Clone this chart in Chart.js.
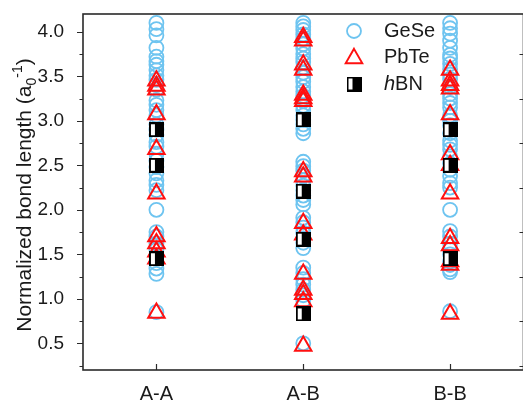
<!DOCTYPE html>
<html>
<head>
<meta charset="utf-8">
<script src="https://cdn.jsdelivr.net/npm/chart.js@4.4.0/dist/chart.umd.min.js"></script>
<style>
  html, body { margin: 0; padding: 0; background: #fff; overflow: hidden; }
  canvas { display: block; }
</style>
</head>
<body>
<canvas id="bondChart" width="535" height="402"></canvas>
<script>
// categories on the x axis
const categories = ["A-A", "A-B", "B-B"];

// GeSe (circles), per category
const geseAA = [4.10, 4.03, 3.96, 3.82, 3.72, 3.67, 3.63, 3.57, 3.51, 3.46, 3.40, 3.35, 3.23, 3.18, 3.12, 3.06, 2.96, 2.90, 2.84, 2.76, 2.71, 2.63, 2.55, 2.48, 2.41, 2.33, 2.28, 2.22, 2.00, 1.75, 1.70, 1.62, 1.55, 1.48, 1.40, 1.34, 1.28, 0.85];
const geseAB = [4.10, 4.06, 4.02, 3.97, 3.92, 3.86, 3.81, 3.75, 3.70, 3.66, 3.60, 3.54, 3.49, 3.44, 3.38, 3.33, 3.28, 3.22, 3.17, 3.12, 3.06, 3.01, 2.96, 2.91, 2.86, 2.54, 2.49, 2.44, 2.38, 2.33, 2.27, 2.22, 2.16, 2.11, 2.06, 1.91, 1.86, 1.80, 1.74, 1.68, 1.63, 1.57, 1.35, 1.29, 1.22, 1.16, 1.10, 1.04, 0.98, 0.50];
const geseBB = [4.10, 4.04, 3.98, 3.90, 3.82, 3.74, 3.70, 3.64, 3.58, 3.52, 3.47, 3.38, 3.30, 3.25, 3.20, 3.15, 3.06, 3.00, 2.95, 2.86, 2.78, 2.73, 2.68, 2.60, 2.52, 2.45, 2.38, 2.30, 2.25, 2.00, 1.76, 1.70, 1.62, 1.55, 1.50, 1.42, 1.38, 1.33, 1.30, 0.86];

// PbTe (triangles)
const pbteAA = [3.45, 3.39, 3.35, 3.07, 2.68, 2.18, 1.70, 1.62, 1.53, 1.45, 0.84];
const pbteAB = [3.94, 3.90, 3.63, 3.57, 3.29, 3.25, 3.22, 2.43, 2.37, 1.85, 1.72, 1.28, 1.10, 1.05, 0.97, 0.47];
const pbteBB = [3.57, 3.45, 3.40, 3.36, 3.07, 2.62, 2.50, 2.18, 1.68, 1.60, 1.42, 1.38, 0.83];

// hBN (half-filled squares)
const hbnAA = [2.90, 2.50, 1.45];
const hbnAB = [3.01, 2.21, 1.67, 0.83];
const hbnBB = [2.90, 2.50, 1.45];

const seriesNames = ["GeSe", "PbTe", "hBN"];
const yTicks = [0.5, 1.0, 1.5, 2.0, 2.5, 3.0, 3.5, 4.0];
const yTickLabels = ["0.5", "1.0", "1.5", "2.0", "2.5", "3.0", "3.5", "4.0"];

const FONT = "'Liberation Sans', Arial, sans-serif";
const BLUE = "rgb(110, 196, 240)";
const RED = "#ff1010";
const AXIS = "#2a2a2a";

// build {x, y} points: category index -> x position 1..n
function toPoints(groups) {
    const pts = [];
    groups.forEach((vals, i) => {
        vals.forEach(v => pts.push({ x: i + 1, y: v }));
    });
    return pts;
}

// half-filled square marker for hBN
function makeHalfSquare() {
    const c = document.createElement("canvas");
    c.width = 15;
    c.height = 15;
    const g = c.getContext("2d");
    g.fillStyle = "#000";
    g.fillRect(0, 0, 15, 15);
    g.fillStyle = "#fff";
    g.fillRect(2, 2, 4, 11);
    return c;
}
const hbnMarker = makeHalfSquare();

// no label overhang padding, keeps the plot box fixed
function noPad(s) {
    s.paddingTop = 0;
    s.paddingBottom = 0;
    s.paddingLeft = 0;
    s.paddingRight = 0;
}

// frame, ticks, y title and legend
const framePlugin = {
    id: "frame",
    afterDraw(chart) {
        const { ctx, chartArea: a, scales } = chart;
        const ys = scales.y, xs = scales.x;
        ctx.save();
        ctx.strokeStyle = AXIS;
        ctx.lineWidth = 1.6;
        ctx.strokeRect(a.left, a.top, a.right - a.left, a.bottom - a.top);

        ctx.lineWidth = 1.2;
        ctx.beginPath();
        yTicks.forEach(v => {
            const py = Math.round(ys.getPixelForValue(v)) + 0.5;
            ctx.moveTo(a.left - 6, py); ctx.lineTo(a.left, py);
            const pm = Math.round(ys.getPixelForValue(v - 0.25)) + 0.5;
            ctx.moveTo(a.left - 3.5, pm); ctx.lineTo(a.left, pm);
            ctx.moveTo(a.right - 4, pm); ctx.lineTo(a.right, pm);
        });
        categories.forEach((c, i) => {
            const px = Math.round(xs.getPixelForValue(i + 1)) + 0.5;
            ctx.moveTo(px, a.bottom); ctx.lineTo(px, a.bottom - 6);
        });
        ctx.stroke();

        // y axis title with subscript / superscript
        ctx.fillStyle = "#1a1a1a";
        ctx.textBaseline = "alphabetic";
        const big = "21px " + FONT, small = "14px " + FONT;
        const parts = [
            { t: "Normalized bond length (a", f: big, dy: 0 },
            { t: "0", f: small, dy: 5 },
            { t: "-1", f: small, dy: -9 },
            { t: ")", f: big, dy: 0 }
        ];
        let total = 0;
        parts.forEach(p => { ctx.font = p.f; p.w = ctx.measureText(p.t).width; total += p.w; });
        ctx.translate(31, (a.top + a.bottom) / 2 + 3);
        ctx.rotate(-Math.PI / 2);
        let x = -total / 2;
        parts.forEach(p => {
            ctx.font = p.f;
            ctx.fillText(p.t, x, p.dy);
            x += p.w;
        });
        ctx.restore();

        // legend
        ctx.save();
        const lx = 354, tx = 384, rows = [31, 57, 84];
        ctx.lineWidth = 1.8;
        ctx.strokeStyle = BLUE;
        ctx.beginPath();
        ctx.arc(lx, rows[0], 7, 0, Math.PI * 2);
        ctx.stroke();
        ctx.strokeStyle = RED;
        ctx.lineWidth = 2;
        const r = 9.5;
        ctx.beginPath();
        ctx.moveTo(lx, rows[1] - r * 0.75 - 1);
        ctx.lineTo(lx + r * 0.866, rows[1] + r * 0.75 - 1);
        ctx.lineTo(lx - r * 0.866, rows[1] + r * 0.75 - 1);
        ctx.closePath();
        ctx.stroke();
        ctx.drawImage(hbnMarker, lx - 7.5, rows[2] - 7.5);

        ctx.fillStyle = "#1a1a1a";
        ctx.textBaseline = "middle";
        ctx.font = "20px " + FONT;
        ctx.fillText(seriesNames[0], tx, rows[0]);
        ctx.fillText(seriesNames[1], tx, rows[1]);
        ctx.font = "italic 20px " + FONT;
        ctx.fillText("h", tx, rows[2]);
        const hw = ctx.measureText("h").width;
        ctx.font = "20px " + FONT;
        ctx.fillText(seriesNames[2].slice(1), tx + hw, rows[2]);
        ctx.restore();
    }
};

new Chart(document.getElementById("bondChart"), {
    type: "scatter",
    data: {
        datasets: [
            {
                label: seriesNames[0],
                data: toPoints([geseAA, geseAB, geseBB]),
                pointStyle: "circle",
                pointRadius: 7,
                pointBorderWidth: 1.8,
                borderColor: BLUE,
                backgroundColor: "rgba(0,0,0,0)",
                order: 2
            },
            {
                label: seriesNames[1],
                data: toPoints([pbteAA, pbteAB, pbteBB]),
                pointStyle: "triangle",
                pointRadius: 9.5,
                pointBorderWidth: 2,
                borderColor: RED,
                backgroundColor: "rgba(0,0,0,0)",
                order: 1
            },
            {
                label: seriesNames[2],
                data: toPoints([hbnAA, hbnAB, hbnBB]),
                pointStyle: hbnMarker,
                pointRadius: 7.5,
                order: 0
            }
        ]
    },
    options: {
        responsive: false,
        animation: false,
        devicePixelRatio: 1,
        layout: { padding: { top: 14, right: 4, left: 0, bottom: 0 } },
        plugins: { legend: { display: false }, tooltip: { enabled: false } },
        scales: {
            x: {
                type: "linear",
                min: 0.5,
                max: 3.5,
                grid: { display: false },
                border: { display: false },
                afterBuildTicks: s => { s.ticks = categories.map((c, i) => ({ value: i + 1 })); },
                afterFit: s => { s.height = 32; noPad(s); },
                ticks: {
                    padding: 4,
                    maxRotation: 0,
                    color: "#1a1a1a",
                    font: { family: FONT, size: 20 },
                    callback: v => categories[v - 1]
                }
            },
            y: {
                min: 0.2,
                max: 4.2,
                grid: { display: false },
                border: { display: false },
                afterBuildTicks: s => { s.ticks = yTicks.map(v => ({ value: v })); },
                afterFit: s => { s.width = 83; noPad(s); },
                ticks: {
                    padding: 11,
                    color: "#1a1a1a",
                    font: { family: FONT, size: 19 },
                    callback: (v) => yTickLabels[yTicks.indexOf(v)]
                }
            }
        }
    },
    plugins: [framePlugin]
});
</script>
</body>
</html>
